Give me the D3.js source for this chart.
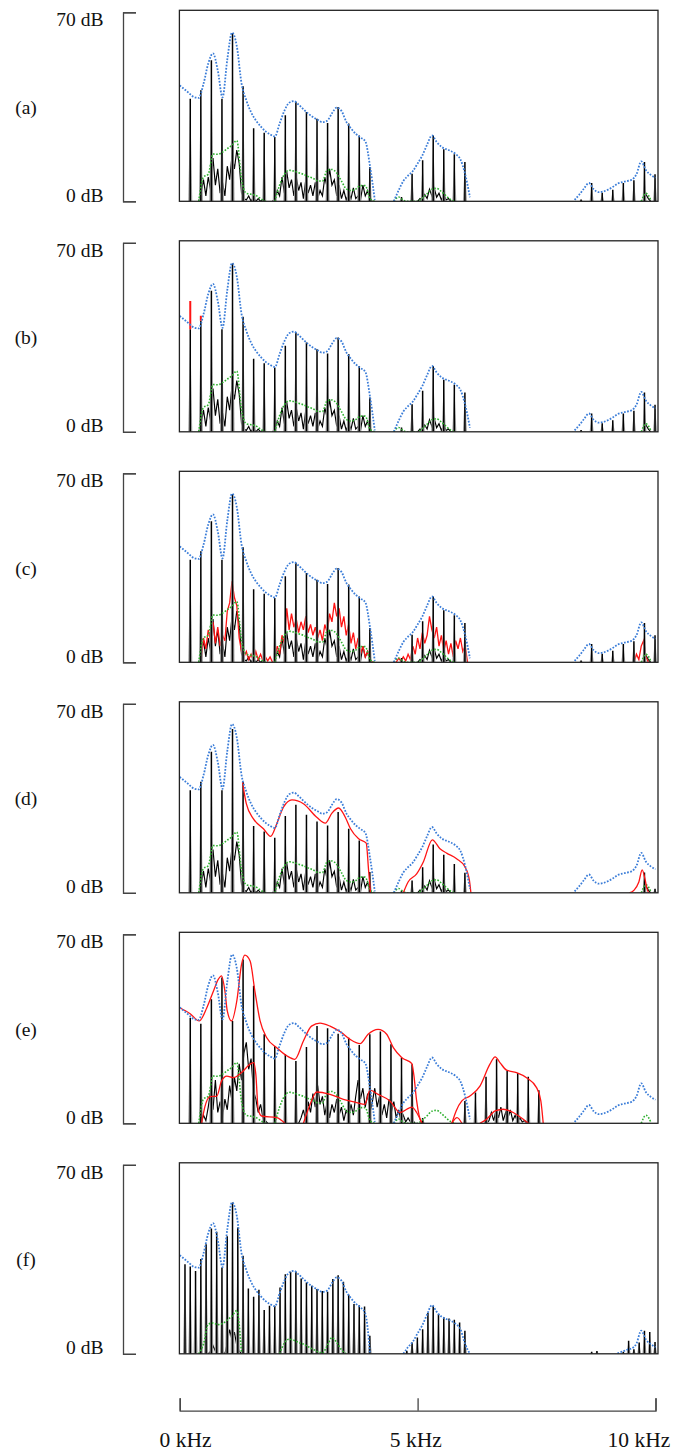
<!DOCTYPE html>
<html><head><meta charset="utf-8">
<script src="https://cdn.jsdelivr.net/npm/d3@7"></script>
<style>
body{margin:0;background:#fff}
</style>
</head><body>
<svg id="chart" width="675" height="1450"></svg>
<script>
// ---------------- DATA ----------------
const panelLabels = ["(a)","(b)","(c)","(d)","(e)","(f)"];
const dbTicks = [70, 0];
const dbTickLabels = ["70 dB","0 dB"];
const khzTicks = [0, 5, 10];
const khzTickLabels = ["0 kHz","5 kHz","10 kHz"];

// envelope grid: 0.0 .. 10.0 kHz, step 0.1
const envKHz = d3.range(0, 101).map(i => i / 10);

const blueA = [42.9,41.5,40.0,38.6,38.3,43.5,51.0,54.8,48.5,38.5,
  52.5,62.5,57.5,43.6,37.4,33.0,30.0,27.8,26.0,24.8,
  24.0,28.8,33.5,36.5,37.1,35.8,34.1,32.5,31.2,30.2,
  29.3,29.8,32.6,34.7,33.5,29.5,27.0,25.0,23.6,22.3,
  13.0,0.5,null,null,null,0,4.0,7.5,9.5,11.2,
  14.0,17.0,21.0,24.4,22.0,20.2,19.3,18.6,17.5,15.5,
  10.0,1.5,null,null,null,null,null,null,null,null,
  null,null,null,null,null,null,null,null,null,null,
  null,null,null,0.5,2.5,4.8,6.8,4.5,3.4,3.6,
  4.3,5.3,6.5,7.1,7.5,8.0,10.0,14.8,11.5,9.8,
  8.7];

const blueF = [36.5,35.1,33.6,32.2,31.9,37.1,44.6,48.4,42.1,32.1,
  46.1,56.1,51.1,37.2,31.0,26.6,23.6,21.4,19.6,18.4,
  17.6,22.4,27.1,30.1,30.7,29.4,27.7,26.1,24.8,23.8,
  22.9,23.4,26.2,28.3,27.1,23.1,20.6,18.6,17.2,15.0,
  0,null,null,null,null,null,null,0,2.5,4.5,
  7.6,10.6,14.6,18.0,15.6,13.8,12.9,12.2,11.1,9.1,
  3.6,0,null,null,null,null,null,null,null,null,
  null,null,null,null,null,null,null,null,null,null,
  null,null,null,null,null,null,null,null,null,null,
  null,null,0.2,0.8,1.5,2.0,3.8,8.6,5.2,3.6,
  2.4];

const greenA = [null,null,null,null,0,9,10,17.5,17.4,18.2,
  19.5,20.8,22.5,8,3,2.6,2.2,1,0,null,
  0,6,10,11.5,11.2,10.6,10,9.2,8.5,7.6,
  7.5,11.5,11.8,10.5,7.5,4.6,4,4.5,5.8,5.8,
  1,0,null,null,null,0,1.6,0.4,0,0,
  0,1.2,2.8,4.5,4.8,3.6,2,0.6,0,null,
  null,null,null,null,null,null,null,null,null,null,
  null,null,null,null,null,null,null,null,null,null,
  null,null,null,null,null,null,null,null,null,null,
  null,null,null,null,null,null,null,0,3,0.5,
  null];

const greenF = [null,null,null,null,0,3.6,11,11.4,10.8,11.2,
  12.5,14,16,0,null,null,null,null,null,null,
  null,0,4,5.4,5,4.2,3.6,2.6,1.7,0.8,
  0.3,3,6,4.2,1.5,0,null,null,null,null,
  null,null,null,null,null,null,null,null,null,null,
  null,null,null,null,null,null,null,null,null,null,
  null,null,null,null,null,null,null,null,null,null,
  null,null,null,null,null,null,null,null,null,null,
  null,null,null,null,null,null,null,null,null,null,
  null,null,null,null,null,null,null,null,null,null,
  null];

// fundamental frequencies (kHz)
const f0Main = 0.222;
const f0Low = 0.111;

// harmonic peak levels (dB), harmonic k = index+1
const harmA = [38,41.1,52.2,38,62.3,42.6,27.1,25.4,23.8,31.9,
  36.8,33.1,30.6,29,34.9,28.8,24.4,12.7,0,0,
  1.6,10.2,15.2,24.4,19.3,17.4,14.6,0,0,0,
  0,0,0,0,0,0,0,0.7,6.8,3.2,
  4.3,6.8,7.8,14.6,10];
const harmBRed = [48.4, 43.0];
const harmD = [38,41.1,52.2,38,60.7,41,24.7,22.7,20.4,28.4,
  32.6,28.9,26.4,24.9,29.9,23.7,19.4,7.7,0,0,
  0.8,4.6,9.5,17.9,14.1,10.7,7.4,0,0,0,
  0,0,0,0,0,0,0,0,0,0,
  0,0,0,7.5,1.5];
const harmE = [39.1,36.9,45.9,54,37.9,60.7,50.9,33,28.6,25.6,
  23.1,28.3,36,35.2,33.2,31.7,29,33,34,29.3,
  24.3,21.9,2,0,0,0,8.3,11.4,17.2,23.7,
  19.6,18.6,17.2,12.2,0,0,0,0,0,0,
  0,0,0,0,0];
const harmF = [33.2,32.3,30.7,35.1,40.6,46.4,45.2,32,43.5,56,
  46.8,36.3,24.2,21.1,23.7,16.2,17.8,17.8,24.6,29.5,
  30.4,30.4,27.9,26.4,25.2,24,23.3,23,27.7,29.1,
  26.7,21.9,18.4,18,17.5,6.7,0,0,0,0,
  0,0,1.1,4.2,6,9.1,15.1,17.8,14.7,13.5,
  13.1,12.6,11.6,8.5,0,0,0,0,0,0,
  0,0,0,0,0,0,0,0,0,0,
  0,0,0,0,0,0,0,0.8,1,0,
  0,0,0,0.8,4.8,1.7,4.2,8.5,8.1,4.4];

// aperiodic (noise) traces: [start kHz, levels every 0.05 kHz]
const noiseStep = 0.05;
const noiseA = [
  [0.40,[0,3,8,2,9,4,16,6,12,3,7,2,13,8,17,12,19,14,3,1,0.5,2,0,1.5,0,1,0,0.5,0]],
  [1.95,[0,1,4,2,9,3,11,5,8,2,9,4,7,1,8,3,6,2,7,1,4,2,9,5,12,6,8,2,6,1,4,0.5,3,1,5,1,2,0.5,6,2,4,0.5,0]],
  [5.00,[0,1,0.5,2.5,1,4.5,2,4.8,1.5,3,0.5,2.5,0.5,1,0,0]],
  [9.75,[0,2.5,1,0]]
];
const noiseCRed = [
  [0.45,[0,9,5,12,8,15,7,13,6,10,8,19,22,30,24,21,9,4,2,4,1,3,0.5,4,1,3,0.5,2,0.5,2,0]],
  [2.00,[2,6,3,10,7,20,12,18,13,16,11,15,12,17,11,14,10,13,9,12,8,14,11,18,15,22,17,20,13,17,10,14,7,11,5,9,3,6,2,4,1,0]],
  [4.55,[0,1.5,0.5,2,0.5,3,1,6,3,9,5,11,7,10,17,12,9,13,6,10,4,8,3,7,2,8,5,9,4,6,0]],
  [9.55,[0,3,1,6,8,2,0]]
];
const noiseE = [
  [0.45,[0,3,1,6,12,5,16,4,8,2,9,5,14,8,17,12,22,16,26,30,20,24,12,9,4,7,2,1,0]],
  [2.50,[0,2,5,1,8,4,11,6,14,7,10,3,8,2,7,4,9,3,6,1,5,2,7,3,10,16,9,13,6,11,4,8,13,6,10,3,7,2,9,4,8,2,5,1,3,0.5,2,0.5,1,0]],
  [6.45,[0,1,4,1,5,2,6,1,4,2,5,1,3,0.5,2,0.5,1,0]]
];
const noiseF = [
  [0.60,[0,1,3,1,0,0,0.5,0,4,9,5,8,3,1,0]]
];

// modified envelopes (red): segments of [kHz, dB]
const redD = [
  [[1.32,41],[1.40,33],[1.55,27.4],[1.76,23.7],[1.91,20.9],[2.04,25.6],[2.18,31.7],[2.36,34.4],[2.60,33],[2.88,28],[3.06,25.8],[3.20,29.5],[3.34,31.4],[3.48,28],[3.59,23.7],[3.76,20],[3.92,18.4],[3.97,8.3],[4.01,0]],
  [[4.70,0],[4.80,4],[4.98,7],[5.12,11.4],[5.31,19.6],[5.47,16.3],[5.61,14.7],[5.82,12.6],[6.00,9.5],[6.09,4.5],[6.12,0]],
  [[9.45,0],[9.55,1],[9.65,4],[9.72,8.5],[9.78,5],[9.83,1],[9.86,0]]
];
const redEUpper = [
  [[0.00,42.8],[0.22,40.6],[0.41,37.9],[0.57,42.8],[0.71,49],[0.81,53.3],[0.88,54.6],[0.95,49],[1.00,41.6],[1.09,37.9],[1.20,45.3],[1.30,58.9],[1.37,62.3],[1.48,60.1],[1.58,49],[1.69,37.9],[1.83,31.7],[2.04,28],[2.25,25],[2.42,23.7],[2.60,30.5],[2.77,36],[2.95,37.1],[3.16,36],[3.40,33.6],[3.58,31.1],[3.79,29.5],[3.96,33],[4.17,34.8],[4.35,33],[4.49,28],[4.67,24.3],[4.88,22.1],[4.92,18],[4.98,8.3],[5.03,3],[5.09,0]],
  [[5.72,0],[5.81,4.6],[5.93,8.3],[6.10,10.1],[6.31,13.8],[6.52,21.9],[6.63,24.6],[6.73,22.5],[6.87,19.7],[7.08,18.8],[7.29,16.9],[7.50,13.2],[7.59,8.3],[7.64,0]]
];
const redELower = [
  [[0.46,0],[0.53,6.2],[0.64,9.9],[0.78,10.1],[0.88,15.7],[0.99,17.5],[1.13,16.9],[1.30,18.8],[1.48,21.9],[1.56,22.5],[1.60,18.1],[1.65,5.2],[1.72,2.7],[2.04,2.1],[2.21,0]],
  [[2.60,0],[2.74,7],[2.88,11.6],[3.16,10.7],[3.44,8.9],[3.72,7.7],[3.89,7],[4.00,12.3],[4.17,10.7],[4.42,8.3],[4.63,4],[4.88,6],[4.98,4],[5.09,0]],
  [[5.72,0],[5.83,2.1],[5.93,0]],
  [[6.31,0],[6.45,1.5],[6.63,4.6],[6.80,5.2],[7.01,4],[7.22,1.5],[7.33,0]]
];

// ---------------- LAYOUT / STYLE ----------------
const FONT = "'Liberation Serif', 'Times New Roman', 'DejaVu Serif', serif";
const svg = d3.select("#chart");
const x = d3.scaleLinear().domain([0, 10]).range([179.7, 655.5]);
const boxLeft = 179.4, boxRight = 658;
const firstTop = 10.3, panelStep = 230.5, boxH = 191, fullScalePx = 189;
const BLUE = "#3b7dd8", GREEN = "#2eb02e", RED = "#ff1414";

const panels = [
  {blue: blueA, green: greenA, f0: f0Main, harm: harmA, noise: noiseA},
  {blue: blueA, green: greenA, f0: f0Main, harm: harmA, noise: noiseA, redHarm: harmBRed},
  {blue: blueA, green: greenA, f0: f0Main, harm: harmA, noise: noiseA, redNoise: noiseCRed},
  {blue: blueA, green: greenA, f0: f0Main, harm: harmD, noise: noiseA, red: redD},
  {blue: blueA, green: greenA, f0: f0Main, harm: harmE, noise: noiseE, red: redEUpper.concat(redELower)},
  {blue: blueF, green: greenF, f0: f0Low, harm: harmF, noise: noiseF}
];

const defs = svg.append("defs");

panels.forEach((p, i) => {
  const top = firstTop + i * panelStep;
  const bottom = top + boxH;
  const y = d3.scaleLinear().domain([0, 70]).range([bottom, bottom - fullScalePx]);
  const g = svg.append("g");

  defs.append("clipPath").attr("id", "clip" + i)
    .append("rect").attr("x", boxLeft).attr("y", top).attr("width", boxRight - boxLeft).attr("height", boxH);

  const plot = g.append("g").attr("clip-path", `url(#clip${i})`);

  const gridLine = d3.line()
    .defined(d => d[1] != null)
    .x(d => x(d[0])).y(d => y(d[1]))
    .curve(d3.curveMonotoneX);
  const segLine = d3.line().x(d => x(d[0])).y(d => y(d[1])).curve(d3.curveMonotoneX);
  const noiseLine = d3.line().x(d => x(d[0])).y(d => y(d[1]));

  const noisePts = segs => segs.map(([start, vals]) => vals.map((v, j) => [start + j * noiseStep, v]));

  // black noise trace
  plot.selectAll(null).data(noisePts(p.noise)).join("path")
    .attr("d", noiseLine).attr("fill", "none").attr("stroke", "#000").attr("stroke-width", 1.15)
    .attr("stroke-linejoin", "miter");

  // red noise (c)
  if (p.redNoise) {
    plot.selectAll(null).data(noisePts(p.redNoise)).join("path")
      .attr("d", noiseLine).attr("fill", "none").attr("stroke", RED).attr("stroke-width", 1.3);
  }

  // harmonics
  const harms = p.harm.map((v, k) => ({f: (k + 1) * p.f0, v})).filter(d => d.v > 0);
  plot.selectAll(null).data(harms).join("path")
    .attr("d", d => `M${x(d.f) - 2},${y(0)}L${x(d.f)},${y(d.v)}L${x(d.f) + 2},${y(0)}Z`)
    .attr("fill", "#9c9c9c");
  plot.selectAll(null).data(harms).join("line")
    .attr("x1", d => x(d.f)).attr("x2", d => x(d.f))
    .attr("y1", y(0)).attr("y2", d => y(d.v))
    .attr("stroke", "#000").attr("stroke-width", 1.5);

  if (p.redHarm) {
    plot.selectAll(null).data(p.redHarm.map((v, k) => ({f: (k + 1) * p.f0, lo: p.harm[k], v}))).join("line")
      .attr("x1", d => x(d.f)).attr("x2", d => x(d.f))
      .attr("y1", d => y(d.lo)).attr("y2", d => y(d.v))
      .attr("stroke", RED).attr("stroke-width", 2);
  }

  // green dotted (aperiodic envelope)
  plot.append("path").datum(envKHz.map((k, j) => [k, p.green[j]]))
    .attr("d", gridLine).attr("fill", "none").attr("stroke", GREEN)
    .attr("stroke-width", 1.6).attr("stroke-dasharray", "1.6,1.6");

  // red curves
  if (p.red) {
    plot.selectAll(null).data(p.red).join("path")
      .attr("d", segLine).attr("fill", "none").attr("stroke", RED).attr("stroke-width", 1.3);
  }

  // blue dotted envelope
  plot.append("path").datum(envKHz.map((k, j) => [k, p.blue[j]]))
    .attr("d", gridLine).attr("fill", "none").attr("stroke", BLUE)
    .attr("stroke-width", 1.8).attr("stroke-dasharray", "1.7,1.5");

  // frame
  g.append("rect").attr("x", boxLeft).attr("y", top).attr("width", boxRight - boxLeft).attr("height", boxH)
    .attr("fill", "none").attr("stroke", "#222").attr("stroke-width", 1.3);

  // left bracket axis
  const ax = g.append("g").attr("transform", "translate(123,0)")
    .call(d3.axisRight(y).tickValues(dbTicks).tickSize(13).tickSizeOuter(13).tickFormat(""));
  ax.select(".domain").attr("stroke", "#444").attr("stroke-width", 1.3);
  ax.selectAll(".tick line").attr("stroke", "#444").attr("stroke-width", 1.3);

  g.selectAll(null).data(dbTicks).join("text")
    .attr("x", 103.5).attr("y", (d, j) => y(d) + (j === 0 ? 13.8 : 0.5))
    .attr("text-anchor", "end").attr("font-size", 19.5).attr("font-family", FONT).attr("fill", "#111")
    .text((d, j) => dbTickLabels[j]);

  g.append("text").attr("x", 26).attr("y", top + 103.2).attr("text-anchor", "middle")
    .attr("font-size", 19.5).attr("font-family", FONT).attr("fill", "#111").text(panelLabels[i]);
});

// bottom frequency axis
const gx = svg.append("g").attr("transform", "translate(0,1410.7)")
  .call(d3.axisTop(x).tickValues(khzTicks).tickSize(12.4).tickSizeOuter(12.4).tickFormat(""));
gx.select(".domain").attr("stroke", "#444").attr("stroke-width", 1.3);
gx.selectAll(".tick line").attr("stroke", "#444").attr("stroke-width", 1.3);

const khzLabelShift = [5.8, -1.8, -16.6];
svg.selectAll(null).data(khzTicks).join("text")
  .attr("x", (d, j) => x(d) + khzLabelShift[j]).attr("y", 1446.5)
  .attr("text-anchor", "middle").attr("font-size", 21.5).attr("font-family", FONT).attr("fill", "#111")
  .text((d, j) => khzTickLabels[j]);
</script>
</body></html>
